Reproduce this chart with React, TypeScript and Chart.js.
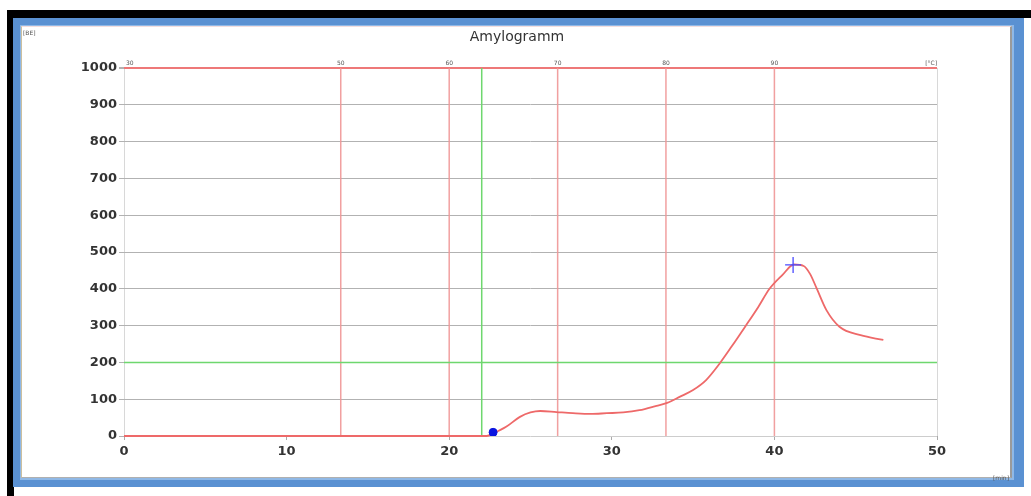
import React, { useEffect, useRef } from "react";
import { Chart, registerables } from "chart.js";

Chart.register(...registerables);

// Viscosity curve: time [min] -> viscosity [BE]
const curveTime = [0, 22.3, 22.75, 23.5, 24.35, 25.0, 25.6, 26.6, 27.6, 28.7, 29.7, 30.7, 31.7, 32.75, 33.4, 34.2, 35.0, 35.8, 36.6, 37.4, 38.2, 39.0, 39.7, 40.5, 41.2, 41.8, 42.2, 42.6, 43.2, 44.0, 45.3, 46.7];
const curveValue = [0, 0, 8, 25, 52, 64, 68, 65, 62, 60, 62, 64, 70, 82, 90, 107, 125, 152, 195, 245, 297, 350, 400, 438, 466, 462, 440, 401, 342, 297, 274, 261];

// Temperature scale markers along the time axis
const tempTimes = [13.33, 20, 26.67, 33.33, 40];
const tempLabels = ["50", "60", "70", "80", "90"];
const tempStartLabel = "30";
const tempUnit = "[°C]";

// Gelatinisation start (time) and reference viscosity level
const gelStartTime = [22.0];
const refLevel = [200];

// Start point and maximum markers
const startPoint = [{ x: 22.7, y: 10 }];
const peakPoint = [{ x: 41.15, y: 465 }];

const xTicks = [0, 10, 20, 30, 40, 50];
const yMax = 1000;
const xMax = 50;

const RED_LINE = "rgba(240,150,150,0.9)";
const GREEN_LINE = "rgb(110,215,110)";

export default function App() {
  const ref = useRef<HTMLCanvasElement | null>(null);

  useEffect(() => {
    if (!ref.current) return;

    const textPlugin = {
      id: "amyloTexts",
      afterDraw(chart: any) {
        const { ctx, scales } = chart;
        const xs = scales.x;
        const ys = scales.y;
        ctx.save();
        // title
        ctx.fillStyle = "#333";
        ctx.font = "14px 'DejaVu Sans'";
        ctx.textAlign = "center";
        ctx.textBaseline = "middle";
        ctx.fillText("Amylogramm", 517, 37);
        // temperature labels
        ctx.font = "6px 'DejaVu Sans'";
        ctx.fillStyle = "#555";
        ctx.textBaseline = "bottom";
        const topY = ys.getPixelForValue(yMax) - 2;
        tempTimes.forEach((t, i) => {
          ctx.textAlign = "center";
          ctx.fillText(tempLabels[i], xs.getPixelForValue(t), topY);
        });
        ctx.textAlign = "left";
        ctx.fillText(tempStartLabel, xs.getPixelForValue(0) + 2, topY);
        ctx.textAlign = "right";
        ctx.fillText(tempUnit, xs.getPixelForValue(xMax), topY);
        // unit labels
        ctx.textAlign = "left";
        ctx.textBaseline = "middle";
        ctx.fillText("[BE]", 23, 33);
        ctx.textAlign = "right";
        ctx.fillText("[min]", 1009, 478);
        ctx.restore();
      },
    };

    const vLine = (t: number) => [
      { x: t, y: 0 },
      { x: t, y: yMax },
    ];

    const datasets: any[] = [
      {
        label: "start",
        type: "scatter",
        data: startPoint,
        pointRadius: 4,
        pointBackgroundColor: "#0a14e0",
        pointBorderColor: "#0a14e0",
        order: 0,
      },
      {
        label: "max",
        type: "scatter",
        data: peakPoint,
        pointStyle: "cross",
        pointRadius: 8,
        pointBorderWidth: 1.3,
        pointBorderColor: "#4a4aff",
        order: 0,
      },
      {
        label: "Viskosität",
        data: curveTime.map((t, i) => ({ x: t, y: curveValue[i] })),
        borderColor: "rgb(238,105,105)",
        borderWidth: 1.8,
        pointRadius: 0,
        cubicInterpolationMode: "monotone",
        fill: false,
        clip: { left: 0, top: 0, right: 0, bottom: 2 },
        order: 1,
      },
      ...gelStartTime.map((t) => ({
        label: "gel",
        data: vLine(t),
        borderColor: GREEN_LINE,
        borderWidth: 1.5,
        pointRadius: 0,
        fill: false,
        order: 2,
      })),
      ...refLevel.map((v) => ({
        label: "ref",
        data: [
          { x: 0, y: v },
          { x: xMax, y: v },
        ],
        borderColor: GREEN_LINE,
        borderWidth: 1.5,
        pointRadius: 0,
        fill: false,
        order: 2,
      })),
      ...tempTimes.map((t) => ({
        label: "temp",
        data: vLine(t),
        borderColor: RED_LINE,
        borderWidth: 1.5,
        pointRadius: 0,
        fill: false,
        order: 3,
      })),
    ];

    const chart = new Chart(ref.current, {
      type: "line",
      data: { datasets },
      options: {
        animation: false,
        responsive: false,
        devicePixelRatio: 1,
        layout: { padding: { top: 68, right: 94, left: 0, bottom: 0 } },
        plugins: {
          legend: { display: false },
          tooltip: { enabled: false },
          title: { display: false },
        },
        scales: {
          x: {
            type: "linear",
            min: 0,
            max: xMax,
            afterBuildTicks: (s: any) => {
              s.ticks = xTicks.map((v) => ({ value: v }));
            },
            afterFit: (s: any) => {
              s.height = 60;
            },
            ticks: {
              color: "#333",
              font: { family: "'DejaVu Sans'", size: 13, weight: "bold" },
              padding: 4,
              maxRotation: 0,
              callback: (v: any) => String(v),
            },
            grid: {
              color: (c: any) =>
                c.tick && (c.tick.value === 0 || c.tick.value === xMax)
                  ? "rgba(200,200,200,0.7)"
                  : "rgba(0,0,0,0)",
              tickColor: "#aaa",
              tickLength: 4,
              drawOnChartArea: true,
            },
            border: { display: false },
          },
          y: {
            type: "linear",
            min: 0,
            max: yMax,
            ticks: {
              stepSize: 100,
              color: "#333",
              font: { family: "'DejaVu Sans'", size: 13, weight: "bold" },
              padding: 2,
              callback: (v: any) => String(v),
            },
            afterFit: (s: any) => {
              s.width = 124;
            },
            grid: {
              // the 1000 line doubles as the temperature axis
              color: (c: any) =>
                c.tick && c.tick.value === yMax
                  ? "rgb(238,120,120)"
                  : c.tick && c.tick.value === 0
                  ? "rgb(205,205,205)"
                  : "rgb(178,178,178)",
              tickColor: "rgb(178,178,178)",
              tickLength: 5,
              lineWidth: (c: any) => (c.tick && c.tick.value === yMax ? 2 : 1),
            },
            border: { display: false },
          },
        },
      },
      plugins: [textPlugin],
    });

    return () => chart.destroy();
  }, []);

  return (
    <div
      style={{
        position: "fixed",
        left: 0,
        top: 0,
        width: 1031,
        height: 496,
        background: "#fff",
        overflow: "hidden",
      }}
    >
      <div
        style={{
          position: "absolute",
          left: 7,
          top: 10,
          width: 1024,
          height: 8,
          background: "#000",
        }}
      />
      <div
        style={{
          position: "absolute",
          left: 7,
          top: 10,
          width: 7,
          height: 486,
          background: "#000",
        }}
      />
      <div
        style={{
          position: "absolute",
          left: 13,
          top: 18,
          width: 1011,
          height: 469,
          boxSizing: "border-box",
          border: "7px solid #5a91d2",
          borderRightWidth: 10,
          boxShadow: "inset 0 0 0 2px #8fb8e6",
          background: "#fff",
        }}
      />
      <div
        style={{
          position: "absolute",
          left: 21,
          top: 26,
          width: 991,
          height: 452,
          boxSizing: "border-box",
          borderLeft: "1px solid #cbbf9f",
          borderTop: "1px solid #f3dede",
          borderRight: "2px solid #9a9a9a",
          borderBottom: "1px solid #b0b0b0",
        }}
      />
      <canvas
        ref={ref}
        width={1031}
        height={496}
        style={{ position: "absolute", left: 0, top: 0, width: 1031, height: 496 }}
      />
    </div>
  );
}
